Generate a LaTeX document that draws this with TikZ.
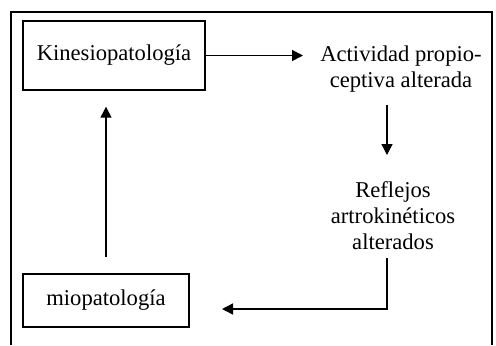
\documentclass[tikz,border=0pt]{standalone}
\usepackage{fontspec}
\setmainfont{Liberation Serif}
\usetikzlibrary{arrows.meta}
\begin{document}
\begin{tikzpicture}[x=0.5pt,y=-0.5pt,
  every node/.style={font=\fontsize{11.3}{13}\selectfont},
  boxnode/.style={draw,line width=0.7pt,inner sep=0pt},
  txtnode/.style={align=center,inner sep=0pt},
  arr/.style={line width=0.7pt,-{Triangle[length=5.5pt,width=5.5pt]}},
  frame/.style={line width=0.6pt}]
\useasboundingbox (0,0) rectangle (496,345);
\draw[frame] (11,345) -- (11,12) -- (492,12) -- (492,345);
\node[boxnode,minimum width=91pt,minimum height=34.5pt] (kin) at (114,55.5) {Kinesiopatología};
\node[boxnode,minimum width=83pt,minimum height=26.5pt] (mio) at (106,300.5) {miopatología};
\node[txtnode] (act) at (401,69) {Actividad propio-\\ceptiva alterada};
\node[txtnode] (ref) at (393,216) {Reflejos\\artrokinéticos\\alterados};
\coordinate (a1) at (303,55.5);
\coordinate (d0) at (387,105);
\coordinate (d1) at (387,155);
\coordinate (r0) at (387,258);
\coordinate (r1) at (387,309);
\coordinate (r2) at (222,309);
\draw[arr] (kin.east) -- (a1);
\draw[arr] (d0) -- (d1);
\draw[arr] (r0) -- (r1) -- (r2);
\draw[arr,shorten <=8pt,shorten >=8pt] (mio.north) -- (mio.north |- kin.south);
\end{tikzpicture}
\end{document}
